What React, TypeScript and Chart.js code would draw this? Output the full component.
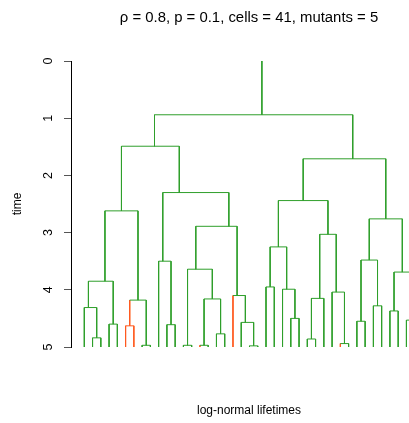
import React, { useEffect, useRef } from 'react';
import { Chart, registerables } from 'chart.js';

Chart.register(...registerables);

const titleText = 'ρ = 0.8, p = 0.1, cells = 41, mutants = 5';
const xTitle = 'log-normal lifetimes';
const yTitle = 'time';
const yTicks = [0, 1, 2, 3, 4, 5];
const nCells = 41;
const endTime = 5;
const mutantCells = [6, 7, 15, 19, 32];

// hclust-style merges: negative = cell (leaf, in plotting order), positive = earlier merge row (1-based)
const mergeLeft = [-2, -1, -4, 2, -6, -8, 5, 4, -11, -10, -13, -15, -17, 12, 11, -21, -20, -19, 15, 10, 8, -23, -26, -25, 22, -28, 26, -32, -31, 27, 25, -34, -36, 32, -38, -40, 35, 34, 31, 21];
const mergeRight = [-3, 1, -5, 3, -7, -9, 6, 7, -12, 9, -14, -16, -18, 13, 14, -22, 16, 17, 18, 19, 20, -24, -27, 23, 24, -29, -30, -33, 28, 29, 30, -35, -37, 33, -39, -41, 36, 37, 38, 39];
const mergeTime = [4.84, 4.31, 4.6, 3.85, 4.63, 4.97, 4.18, 2.62, 4.61, 3.5, 4.97, 4.97, 4.77, 4.16, 3.64, 4.98, 4.57, 4.1, 2.89, 2.3, 1.49, 3.95, 4.5, 3.99, 3.25, 4.86, 4.15, 4.94, 4.04, 3.03, 2.44, 4.55, 4.28, 3.48, 4.37, 4.53, 3.69, 2.76, 1.71, 0.94];

const GREEN = '#2f9f2b';
const RED = '#ff5a1f';
const FONT = 'Liberation Sans, Arial, Helvetica, sans-serif';

type Pt = { x: number; y: number | null };

function buildSegments() {
  const green: Pt[] = [];
  const red: Pt[] = [];
  const n = mergeTime.length;
  const nodes: { min: number; max: number; x: number; mutant: boolean; time: number }[] = [];
  const info = (id: number) => {
    if (id < 0) {
      const k = -id;
      return { min: k, max: k, x: k, mutant: mutantCells.includes(k), time: endTime };
    }
    return nodes[id - 1];
  };
  for (let i = 0; i < n; i++) {
    const L = info(mergeLeft[i]);
    const R = info(mergeRight[i]);
    nodes.push({
      min: Math.min(L.min, R.min),
      max: Math.max(L.max, R.max),
      x: (L.max + R.min) / 2,
      mutant: L.mutant && R.mutant,
      time: mergeTime[i],
    });
  }
  const seg = (arr: Pt[], x1: number, y1: number, x2: number, y2: number) => {
    arr.push({ x: x1, y: y1 }, { x: x2, y: y2 }, { x: x1, y: null });
  };
  for (let i = 0; i < n; i++) {
    const node = nodes[i];
    const L = info(mergeLeft[i]);
    const R = info(mergeRight[i]);
    seg(node.mutant ? red : green, L.x, node.time, R.x, node.time);
    for (const c of [L, R]) {
      seg(c.mutant ? red : green, c.x, node.time, c.x, c.time);
    }
  }
  const root = nodes[n - 1];
  seg(green, root.x, 0, root.x, root.time);
  return { green, red };
}

export default function App() {
  const ref = useRef<HTMLCanvasElement>(null);
  useEffect(() => {
    const { green, red } = buildSegments();
    const chart = new Chart(ref.current as HTMLCanvasElement, {
      type: 'line',
      data: {
        datasets: [
          { data: green as any, borderColor: GREEN, borderWidth: 1, pointRadius: 0, tension: 0, spanGaps: false, fill: false },
          { data: red as any, borderColor: RED, borderWidth: 1, pointRadius: 0, tension: 0, spanGaps: false, fill: false },
        ],
      },
      options: {
        responsive: false,
        animation: false,
        devicePixelRatio: 1,
        layout: { padding: { left: 0, right: 13, top: 0, bottom: 0 } },
        plugins: {
          legend: { display: false },
          tooltip: { enabled: false },
          title: {
            display: true,
            text: titleText,
            fullSize: false,
            color: '#000',
            font: { family: FONT, size: 14.9, weight: 'normal' },
            padding: { top: 8.5, bottom: 61 - 8.5 - 14.9 * 1.2 },
          },
        },
        scales: {
          x: {
            type: 'linear',
            min: -0.61,
            max: 42.49,
            ticks: { display: false },
            grid: { display: false, drawTicks: false },
            border: { display: false },
            title: {
              display: true,
              text: xTitle,
              color: '#000',
              font: { family: FONT, size: 12 },
              padding: { top: 76 - 14.4 - 4.8, bottom: 4.8 },
            },
          },
          y: {
            type: 'linear',
            position: 'left',
            min: 0,
            max: 5,
            reverse: true,
            afterBuildTicks: (s: any) => {
              s.ticks = yTicks.map((v) => ({ value: v }));
            },
            afterFit: (s: any) => {
              s.width = 71;
            },
            ticks: {
              minRotation: 90,
              maxRotation: 90,
              crossAlign: 'center',
              padding: 12.2,
              color: '#000',
              font: { family: FONT, size: 12.5 },
              callback: (v: any) => String(v),
            },
            grid: { display: true, drawOnChartArea: false, drawTicks: true, tickLength: 7, color: '#555', lineWidth: 1 },
            border: { display: true, color: '#000', width: 1 },
            title: {
              display: true,
              text: yTitle,
              color: '#000',
              font: { family: FONT, size: 12 },
              padding: { top: 10.8, bottom: 0 },
            },
          },
        },
      } as any,
    });
    return () => chart.destroy();
  }, []);
  return (
    <div style={{ position: 'fixed', left: 0, top: 0, width: 409, height: 423, overflow: 'hidden', background: '#fff' }}>
      <canvas ref={ref} width={440} height={423} style={{ display: 'block', width: 440, height: 423 }} />
    </div>
  );
}
